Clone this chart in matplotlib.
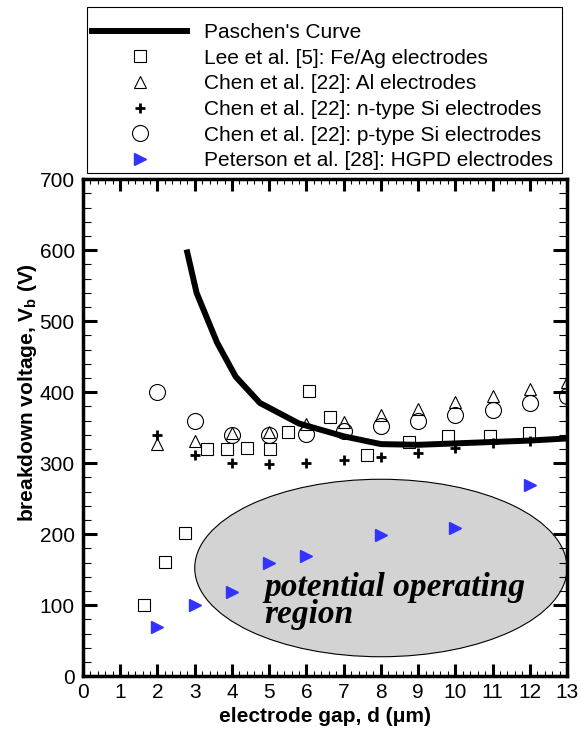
import matplotlib.pyplot as plt
from matplotlib.patches import Ellipse, Rectangle
from matplotlib.ticker import MultipleLocator

plt.rcParams['font.family'] = ['Liberation Sans', 'DejaVu Sans']
plt.rcParams['mathtext.fontset'] = 'custom'
plt.rcParams['mathtext.rm'] = 'Liberation Sans'
plt.rcParams['mathtext.bf'] = 'Liberation Sans:bold'

# data
paschen_d = [2.8, 3.05, 3.6, 4.1, 4.75, 5.8, 7, 8, 9, 10, 11, 12, 13]
paschen_v = [597, 540, 470, 422, 385, 356, 338, 327, 326, 328, 330, 332, 335]

lee_d = [1.64, 2.19, 2.75, 3.32, 3.87, 4.41, 5.03, 5.51, 6.07, 6.64, 7.64, 8.75, 9.81, 10.94, 11.98]
lee_v = [100, 161, 202, 320, 320, 321, 320, 344, 402, 365, 312, 330, 338, 338, 342]

al_d = [2, 3, 4, 5, 6, 7, 8, 9, 10, 11, 12, 13]
al_v = [327, 332, 342, 344, 356, 358, 368, 376, 387, 395, 405, 415]

nsi_d = [2, 3, 4, 5, 6, 7, 8, 9, 10, 11, 12, 13]
nsi_v = [340, 312, 301, 299, 300, 304, 309, 314, 322, 328, 332, 338]

psi_d = [2, 3, 4, 5, 6, 7, 8, 9, 10, 11, 12, 13]
psi_v = [400, 359, 340, 340, 341, 345, 352, 359, 368, 375, 385, 395]

hgpd_d = [2, 3, 4, 5, 6, 8, 10, 12]
hgpd_v = [69, 101, 119, 159, 170, 199, 209, 270]

fig = plt.figure(figsize=(5.81, 7.33), dpi=100)
ax = fig.add_axes([0.1429, 0.0774, 0.8331, 0.678])

# shaded operating region
ax.add_patch(Ellipse((8, 152.5), 10, 250, facecolor='#d3d3d3', edgecolor='black',
                     linewidth=0.8, zorder=1))
ax.text(4.86, 75, 'potential operating\nregion', family='Liberation Serif',
        style='italic', weight='bold', fontsize=24, linespacing=0.85,
        va='baseline', zorder=5)

ax.plot(paschen_d, paschen_v, color='black', linewidth=4.3, label="Paschen's Curve", zorder=4)
ax.plot(lee_d, lee_v, 's', ms=8.8, mfc='none', mec='black', mew=0.8,
        label='Lee et al. [5]: Fe/Ag electrodes', zorder=3)
ax.plot(al_d, al_v, '^', ms=9, mfc='none', mec='black', mew=0.8,
        label='Chen et al. [22]: Al electrodes', zorder=3)
ax.plot(nsi_d, nsi_v, '+', ms=7, mec='black', mew=2,
        label='Chen et al. [22]: n-type Si electrodes', zorder=3)
ax.plot(psi_d, psi_v, 'o', ms=11.5, mfc='none', mec='black', mew=0.8,
        label='Chen et al. [22]: p-type Si electrodes', zorder=3)
ax.plot(hgpd_d, hgpd_v, '>', ms=9, color='#3333ff', mec='#3333ff',
        label='Peterson et al. [28]: HGPD electrodes', zorder=3)

ax.set_xlim(0, 13)
ax.set_ylim(0, 700)
ax.xaxis.set_major_locator(MultipleLocator(1))
ax.xaxis.set_minor_locator(MultipleLocator(0.2))
ax.yaxis.set_major_locator(MultipleLocator(100))
ax.yaxis.set_minor_locator(MultipleLocator(20))
for s in ax.spines.values():
    s.set_linewidth(2.5)
ax.tick_params(axis='both', which='both', direction='in', top=True, right=True,
               labelsize=15, colors='black')
ax.tick_params(axis='x', which='major', length=8.5, width=2.2, pad=5)
ax.tick_params(axis='x', which='minor', length=3.5, width=0.8)
ax.tick_params(axis='y', which='major', length=10, width=2.2, pad=6)
ax.tick_params(axis='y', which='minor', length=6, width=0.8)

ax.set_xlabel('electrode gap, d (\u03bcm)', fontsize=15, weight='bold', labelpad=3.5)
ax.set_ylabel(r'breakdown voltage, $\mathbf{V_b}$ (V)', fontsize=15, weight='bold', va='center')
ax.yaxis.set_label_coords(-0.114, 0.571)

# legend box drawn separately so the padding matches
fig.patches.append(Rectangle((87 / 581, 1 - 173 / 733), 475 / 581, 166 / 733,
                             transform=fig.transFigure, facecolor='white',
                             edgecolor='black', linewidth=0.8, zorder=0))
fig.legend(loc='upper left', bbox_to_anchor=(92 / 581, 1 - 23 / 733),
           fontsize=15, handlelength=4.57, handletextpad=0.82,
           labelspacing=0.32, borderpad=0, borderaxespad=0, frameon=False)

fig.savefig('out.png', dpi=100)
